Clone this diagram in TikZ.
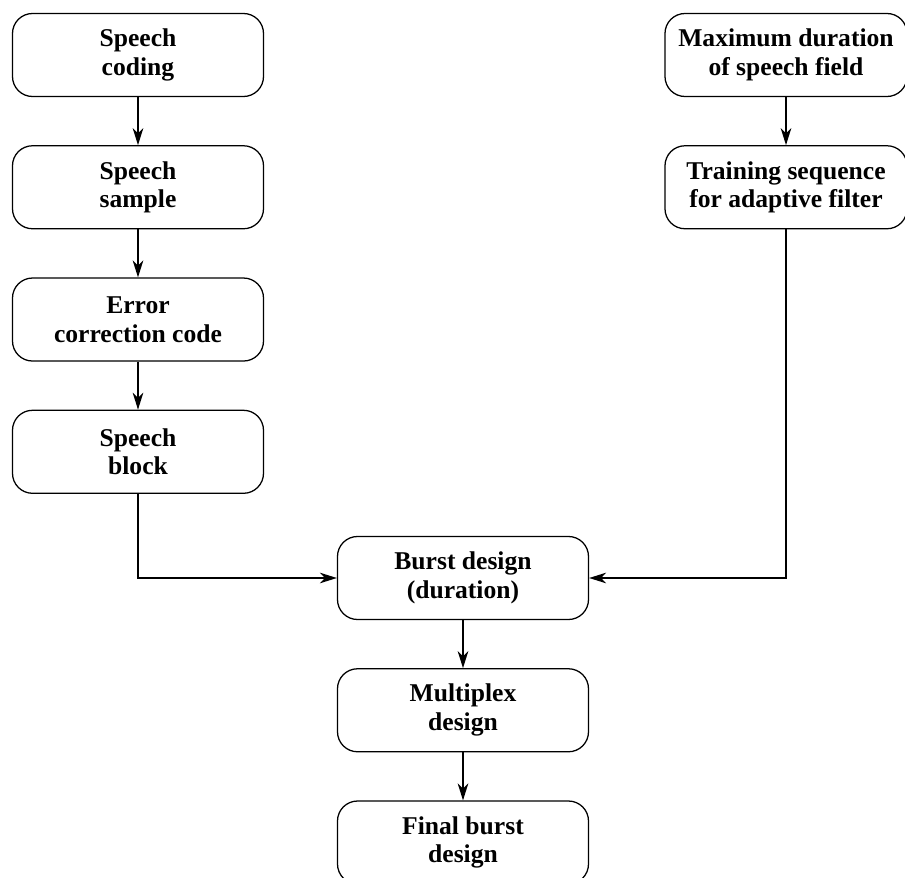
\documentclass[tikz,border=0pt]{standalone}
\usepackage{fontspec}
\setmainfont{Liberation Serif}
\usepackage{tikz}
\usetikzlibrary{arrows.meta, positioning}
\tikzset{
  fc box/.style={
    rectangle, rounded corners=0.5cm, draw=black, fill=white,
    line width=0.9pt, minimum width=6.275cm, minimum height=2.075cm,
    text centered, font=\fontsize{18.2}{20.5}\selectfont\bfseries,
    inner sep=2pt
  },
  fc arrow/.style={
    -{Stealth[length=12pt, width=7.5pt, inset=3.5pt]}, line width=1.1pt, draw=black
  }
}

\begin{document}
\begin{tikzpicture}[node distance=1.2cm, align=center]
  \useasboundingbox (0,0) rectangle (22.625,-21.95);
  % Left column: speech path
  \node (coding) [fc box] at (3.45,-1.375) {Speech\\coding};
  \node (sample) [fc box, below=of coding] {Speech\\sample};
  \node (ecc) [fc box, below=of sample] {Error\\correction code};
  \node (block) [fc box, below=of ecc] {Speech\\block};
  % Right column: field length and training sequence
  \node (maxdur) [fc box, minimum width=6.05cm] at (19.65,-1.375) {Maximum duration\\of speech field};
  \node (train) [fc box, minimum width=6.05cm, below=of maxdur] {Training sequence\\for adaptive filter};
  % Middle column: burst design
  \node (burst) [fc box] at (11.575,-14.45) {Burst design\\(duration)};
  \node (mux) [fc box, below=1.2cm of burst] {Multiplex\\design};
  \node (final) [fc box, below=1.2cm of mux] {Final burst\\design};

  \draw [fc arrow] (coding) -- (sample);
  \draw [fc arrow] (sample) -- (ecc);
  \draw [fc arrow] (ecc) -- (block);
  \draw [fc arrow] (maxdur) -- (train);
  \draw [fc arrow] (block) |- (burst);
  \draw [fc arrow] (train) |- (burst);
  \draw [fc arrow] (burst) -- (mux);
  \draw [fc arrow] (mux) -- (final);
\end{tikzpicture}
\end{document}
